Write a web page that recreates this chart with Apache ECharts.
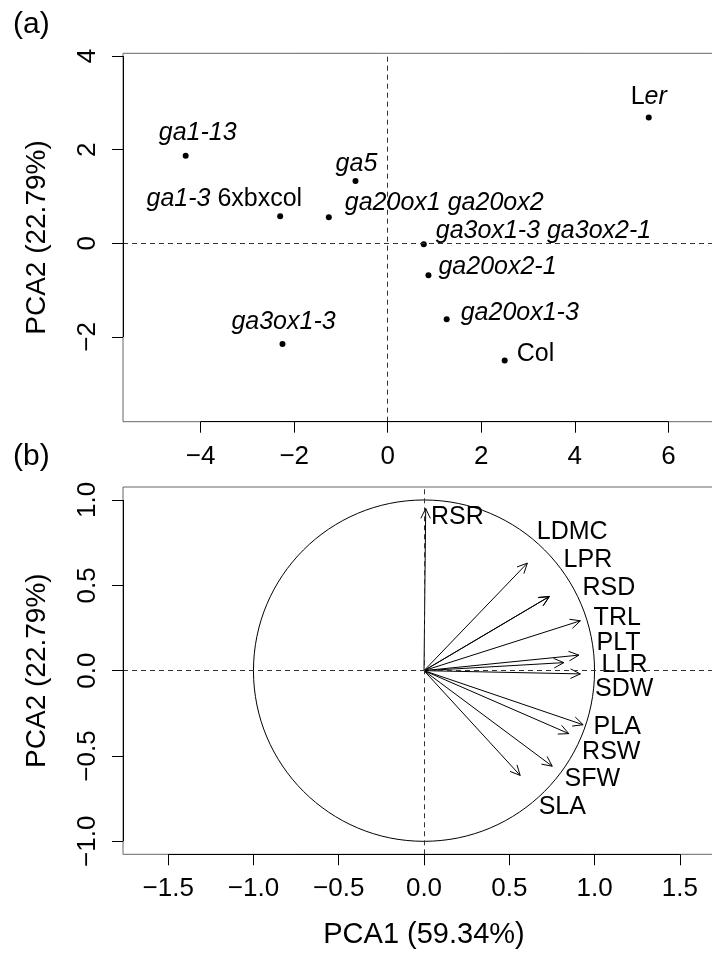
<!DOCTYPE html>
<html>
<head>
<meta charset="utf-8">
<title>PCA</title>
<script src="https://cdn.jsdelivr.net/npm/echarts@6/dist/echarts.min.js"></script>
<style>
html, body { margin: 0; padding: 0; background: #fff; }
#chart { width: 712px; height: 954px; }
</style>
</head>
<body>
<div id="chart"></div>
<script>
// (a) genotype scores
var genotypes = ['Ler', 'ga1-13', 'ga5', 'ga1-3 6xbxcol', 'ga20ox1 ga20ox2', 'ga3ox1-3 ga3ox2-1',
                 'ga20ox2-1', 'ga20ox1-3', 'ga3ox1-3', 'Col'];
var pc1 = [5.58, -4.32, -0.69, -2.30, -1.26, 0.77, 0.87, 1.26, -2.25, 2.50];
var pc2 = [2.69, 1.87, 1.33, 0.58, 0.56, -0.02, -0.68, -1.62, -2.15, -2.50];
var ticksAx = [-4, -2, 0, 2, 4, 6];
var ticksAy = [-2, 0, 2, 4];

// (b) trait loadings
var traits = ['RSR', 'LDMC', 'LPR', 'RSD', 'TRL', 'PLT', 'LLR', 'SDW', 'PLA', 'RSW', 'SFW', 'SLA'];
var loadX = [0.01, 0.606, 0.733, 0.736, 0.917, 0.908, 0.820, 0.917, 0.933, 0.849, 0.752, 0.564];
var loadY = [0.95, 0.630, 0.433, 0.435, 0.292, 0.091, 0.047, -0.019, -0.317, -0.369, -0.560, -0.614];
// where each trait name sits (data units)
var labX = [0.196, 0.869, 0.961, 1.084, 1.133, 1.141, 1.176, 1.174, 1.133, 1.098, 0.987, 0.811];
var labY = [0.900, 0.812, 0.645, 0.483, 0.307, 0.161, 0.033, -0.109, -0.328, -0.475, -0.637, -0.798];
var ticksBx = [-1.5, -1, -0.5, 0, 0.5, 1, 1.5];
var ticksBy = [-1, -0.5, 0, 0.5, 1];

// label placement for (a): [align, dx, dy]
var labLayout = [
  ['center', 0, -20], ['center', 12, -23], ['center', 1, -17], ['right', 22, -17],
  ['left', 16, -14], ['left', 12, -13], ['left', 10, -8], ['left', 14, -6],
  ['center', 1, -22], ['left', 12, -6]
];

var FONT = 'Liberation Sans';
var minus = function (s) { return String(s).replace('-', '\u2212'); };

function richName(name) {
  if (name === 'Ler') return '{n|L}{i|er}';
  return name.split(' ').map(function (t) {
    return t.indexOf('ga') === 0 ? '{i|' + t + '}' : '{n|' + t + '}';
  }).join('{n| }');
}

var chart = echarts.init(document.getElementById('chart'));

function xAxisCfg(idx, min, max, ticks, fmt, extra) {
  var o = {
    type: 'value', gridIndex: idx, min: min, max: max,
    axisLine: { show: false, onZero: false }, splitLine: { show: false },
    axisTick: { show: true, length: 11, customValues: ticks, lineStyle: { color: '#000', width: 1 } },
    axisLabel: { customValues: ticks, fontSize: 26, fontFamily: FONT, color: '#000', margin: 22, formatter: fmt }
  };
  return Object.assign(o, extra || {});
}
function yAxisCfg(idx, min, max, ticks, fmt) {
  return {
    type: 'value', gridIndex: idx, min: min, max: max,
    name: 'PCA2 (22.79%)', nameLocation: 'middle', nameGap: 72,
    nameTextStyle: { fontSize: 28, fontFamily: FONT, color: '#000' },
    axisLine: { show: false, onZero: false }, splitLine: { show: false },
    axisTick: { show: true, length: 11, customValues: ticks, lineStyle: { color: '#000', width: 1 } },
    axisLabel: { customValues: ticks, rotate: 90, fontSize: 26, fontFamily: FONT, color: '#000', margin: 22, formatter: fmt }
  };
}

var fmtA = function (v) { return minus(v); };
var fmtB = function (v) { return minus(v.toFixed(1)); };

var dash = { type: [5, 4], color: '#333', width: 1 };
var solid = { type: 'solid', color: '#000', width: 1 };

var option = {
  animation: false,
  backgroundColor: '#fff',
  textStyle: { fontFamily: FONT },
  grid: [
    { left: 123, top: 53.3, right: -13, height: 368.4, outerBoundsMode: 'none', containLabel: false,
      show: true, borderColor: '#666', borderWidth: 1 },
    { left: 123, top: 487, right: -13, height: 367.3, outerBoundsMode: 'none', containLabel: false,
      show: true, borderColor: '#666', borderWidth: 1 }
  ],
  xAxis: [
    xAxisCfg(0, -5.66, 7.21, ticksAx, fmtA),
    xAxisCfg(1, -1.765, 1.765, ticksBx, fmtB, {
      name: 'PCA1 (59.34%)', nameLocation: 'middle', nameGap: 66,
      nameTextStyle: { fontSize: 29, fontFamily: FONT, color: '#000' }
    })
  ],
  yAxis: [
    yAxisCfg(0, -3.81, 4.06, ticksAy, fmtA),
    yAxisCfg(1, -1.076, 1.076, ticksBy, fmtB)
  ],
  graphic: [
    { type: 'text', left: 13, top: 10, style: { text: '(a)', fontSize: 30, fontFamily: FONT, fill: '#000' } },
    { type: 'text', left: 13, top: 442, style: { text: '(b)', fontSize: 30, fontFamily: FONT, fill: '#000' } }
  ],
  series: [
    {
      type: 'scatter', xAxisIndex: 0, yAxisIndex: 0, clip: false,
      symbolSize: 6, itemStyle: { color: '#000', opacity: 1 },
      data: genotypes.map(function (g, i) {
        var L = labLayout[i];
        return {
          value: [pc1[i], pc2[i]], name: g,
          label: { show: true, position: 'inside', align: L[0], verticalAlign: 'middle', offset: [L[1], L[2]],
            formatter: richName(g), opacity: 1,
            rich: {
              i: { fontStyle: 'italic', fontSize: 25, fontFamily: FONT, color: '#000' },
              n: { fontSize: 25, fontFamily: FONT, color: '#000' }
            } }
        };
      }),
      markLine: {
        silent: true, symbol: 'none', label: { show: false },
        lineStyle: dash,
        data: [
          { xAxis: 0 }, { yAxis: 0 },
          [{ coord: [ticksAx[0], -3.81], lineStyle: solid }, { coord: [ticksAx[ticksAx.length - 1], -3.81] }],
          [{ coord: [-5.66, ticksAy[0]], lineStyle: solid }, { coord: [-5.66, ticksAy[ticksAy.length - 1]] }]
        ]
      }
    },
    {
      // correlation circle
      type: 'custom', xAxisIndex: 1, yAxisIndex: 1, silent: true,
      data: [[0, 0]],
      renderItem: function (params, api) {
        var c = api.coord([0, 0]);
        var s = api.size([1, 1]);
        return { type: 'ellipse', shape: { cx: c[0], cy: c[1], rx: s[0], ry: s[1] },
          style: { stroke: '#000', fill: null, lineWidth: 1 } };
      },
      markLine: {
        silent: true, symbol: 'none', label: { show: false },
        lineStyle: dash,
        data: [
          { xAxis: 0 }, { yAxis: 0 },
          [{ coord: [ticksBx[0], -1.076], lineStyle: solid }, { coord: [ticksBx[ticksBx.length - 1], -1.076] }],
          [{ coord: [-1.765, ticksBy[0]], lineStyle: solid }, { coord: [-1.765, ticksBy[ticksBy.length - 1]] }]
        ]
      }
    },
    {
      // loading arrows
      type: 'custom', xAxisIndex: 1, yAxisIndex: 1, silent: true,
      data: traits.map(function (t, i) { return [loadX[i], loadY[i]]; }),
      renderItem: function (params, api) {
        var o = api.coord([0, 0]);
        var p = api.coord([api.value(0), api.value(1)]);
        var ang = Math.atan2(p[1] - o[1], p[0] - o[0]);
        var len = 11, a = Math.PI / 7;
        var h1 = [p[0] - len * Math.cos(ang - a), p[1] - len * Math.sin(ang - a)];
        var h2 = [p[0] - len * Math.cos(ang + a), p[1] - len * Math.sin(ang + a)];
        return { type: 'group', children: [
          { type: 'line', shape: { x1: o[0], y1: o[1], x2: p[0], y2: p[1] }, style: { stroke: '#000', lineWidth: 1 } },
          { type: 'polyline', shape: { points: [h1, p, h2] }, style: { stroke: '#000', fill: null, lineWidth: 1 } }
        ] };
      }
    },
    {
      // trait names
      type: 'scatter', xAxisIndex: 1, yAxisIndex: 1, symbolSize: 0, silent: true,
      itemStyle: { opacity: 1 },
      data: traits.map(function (t, i) { return { value: [labX[i], labY[i]], name: t }; }),
      label: { show: true, position: 'inside', formatter: '{b}', fontSize: 25, fontFamily: FONT, color: '#000', opacity: 1 }
    }
  ]
};
chart.setOption(option);
</script>
</body>
</html>
